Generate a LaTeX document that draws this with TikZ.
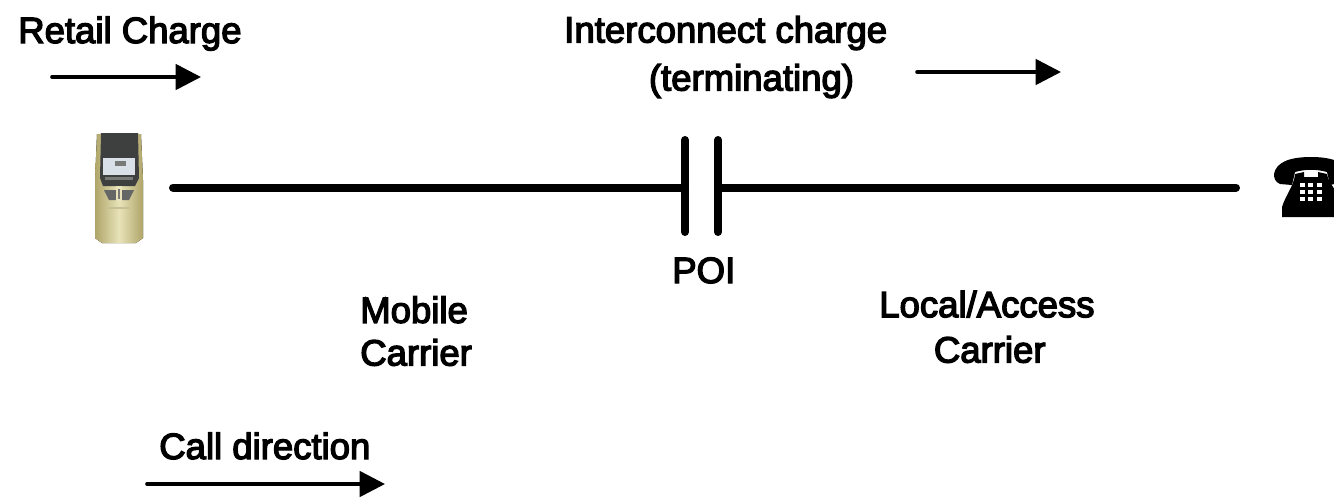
\documentclass[tikz,border=0pt]{standalone}
\usepackage{fontspec}
\newfontfamily\lblfont{Liberation Sans}
\usetikzlibrary{arrows.meta}
\definecolor{goldmid}{RGB}{232,227,185}
\definecolor{goldedge}{RGB}{175,165,105}
\definecolor{screen}{RGB}{218,224,232}
\definecolor{darkpanel}{RGB}{62,64,64}
\definecolor{midpanel}{RGB}{120,122,120}
\tikzset{
  x=0.75pt,y=-0.75pt,
  lbl/.style={font=\fontsize{27.4pt}{32pt}\lblfont,align=left,inner sep=0pt,text=black,anchor=base west,
    execute at begin node={\special{pdf:code 2 Tr 1.0 w}},
    execute at end node={\special{pdf:code 0 Tr 0.4 w}}},
  wire/.style={line width=6pt,line cap=round},
  bar/.style={line width=6pt,line cap=round},
  arr/.style={line width=2.7pt,line cap=round,-{Triangle[length=19pt,width=19pt]}},
}
\begin{document}
\begin{tikzpicture}
\useasboundingbox (0,0) rectangle (1334,497);
\clip (0,0) rectangle (1334,497);
% labels
\node[lbl] (retail) at (18,43) {Retail Charge};
\node[lbl] (inter) at (564,90.5) {Interconnect charge\\[4pt]\hspace*{63.5pt}(terminating)};
\node[lbl] (poi) at (672,283) {POI};
\node[lbl] (mobile) at (360,365.5) {Mobile\\Carrier};
\node[lbl] (local) at (879,362.5) {Local/Access\\[2pt]\hspace*{41pt}Carrier};
\node[lbl] (call) at (159,459) {Call direction};
% coordinates
\coordinate (a1s) at (52,77); \coordinate (a1e) at (201,77);
\coordinate (a2s) at (917,72); \coordinate (a2e) at (1061,72);
\coordinate (a3s) at (147,484); \coordinate (a3e) at (385,484);
\coordinate (w1s) at (173,187.5); \coordinate (w1e) at (685,187.5);
\coordinate (w2s) at (718,187.5); \coordinate (w2e) at (1236,187.5);
\coordinate (b1t) at (685,140); \coordinate (b1b) at (685,232);
\coordinate (b2t) at (718,140); \coordinate (b2b) at (718,232);
\draw[arr] (a1s) -- (a1e);
\draw[arr] (a2s) -- (a2e);
\draw[arr] (a3s) -- (a3e);
\draw[wire] (w1s) -- (w1e);
\draw[wire] (w2s) -- (w2e);
\draw[bar] (b1t) -- (b1b);
\draw[bar] (b2t) -- (b2b);
% mobile phone
\fill[left color=goldedge,right color=goldedge,middle color=goldmid]
  (97,134) -- (141,134) -- (143,180) -- (143,238) -- (136,243) -- (102,243) -- (95,238) -- (95,180) -- cycle;
\fill[darkpanel] (101,133) -- (138,133) -- (139,178) -- (135,186) -- (103,186) -- (100,178) -- cycle;
\fill[screen] (103,158) rectangle (135,175);
\fill[midpanel] (115,161) rectangle (126,166);
\fill[midpanel] (105,177) rectangle (133,180);
\fill[darkpanel!80!white] (104,190) -- (134,190) -- (129,200) -- (109,200) -- cycle;
\fill[goldmid] (116,186) rectangle (122,201);
\fill[midpanel] (118,189) rectangle (120,199);
\fill[goldedge!70!white] (108,207) rectangle (130,209);
% telephone
\fill[black] (1274,174) .. controls (1276,163) and (1288,157) .. (1311,157)
  .. controls (1334,157) and (1346,163) .. (1348,174)
  -- (1348,181) -- (1330,185) -- (1327,172)
  .. controls (1316,169) and (1306,169) .. (1295,172)
  -- (1292,185) -- (1280,184) .. controls (1275,182) and (1274,178) .. cycle;
\fill[black] (1295,174) -- (1304,172) -- (1304,177) -- (1318,177) -- (1318,172) -- (1327,174)
  .. controls (1328,184) and (1340,192) .. (1348,217) -- (1282,217) -- (1282,207) .. controls (1286,194) and (1294,186) .. cycle;
\foreach \r in {185,192,199}{\foreach \c in {1302,1310,1319}{\fill[white] (\c-2.5,\r-1.8) rectangle (\c+2.5,\r+1.8);}}
\end{tikzpicture}
\end{document}
